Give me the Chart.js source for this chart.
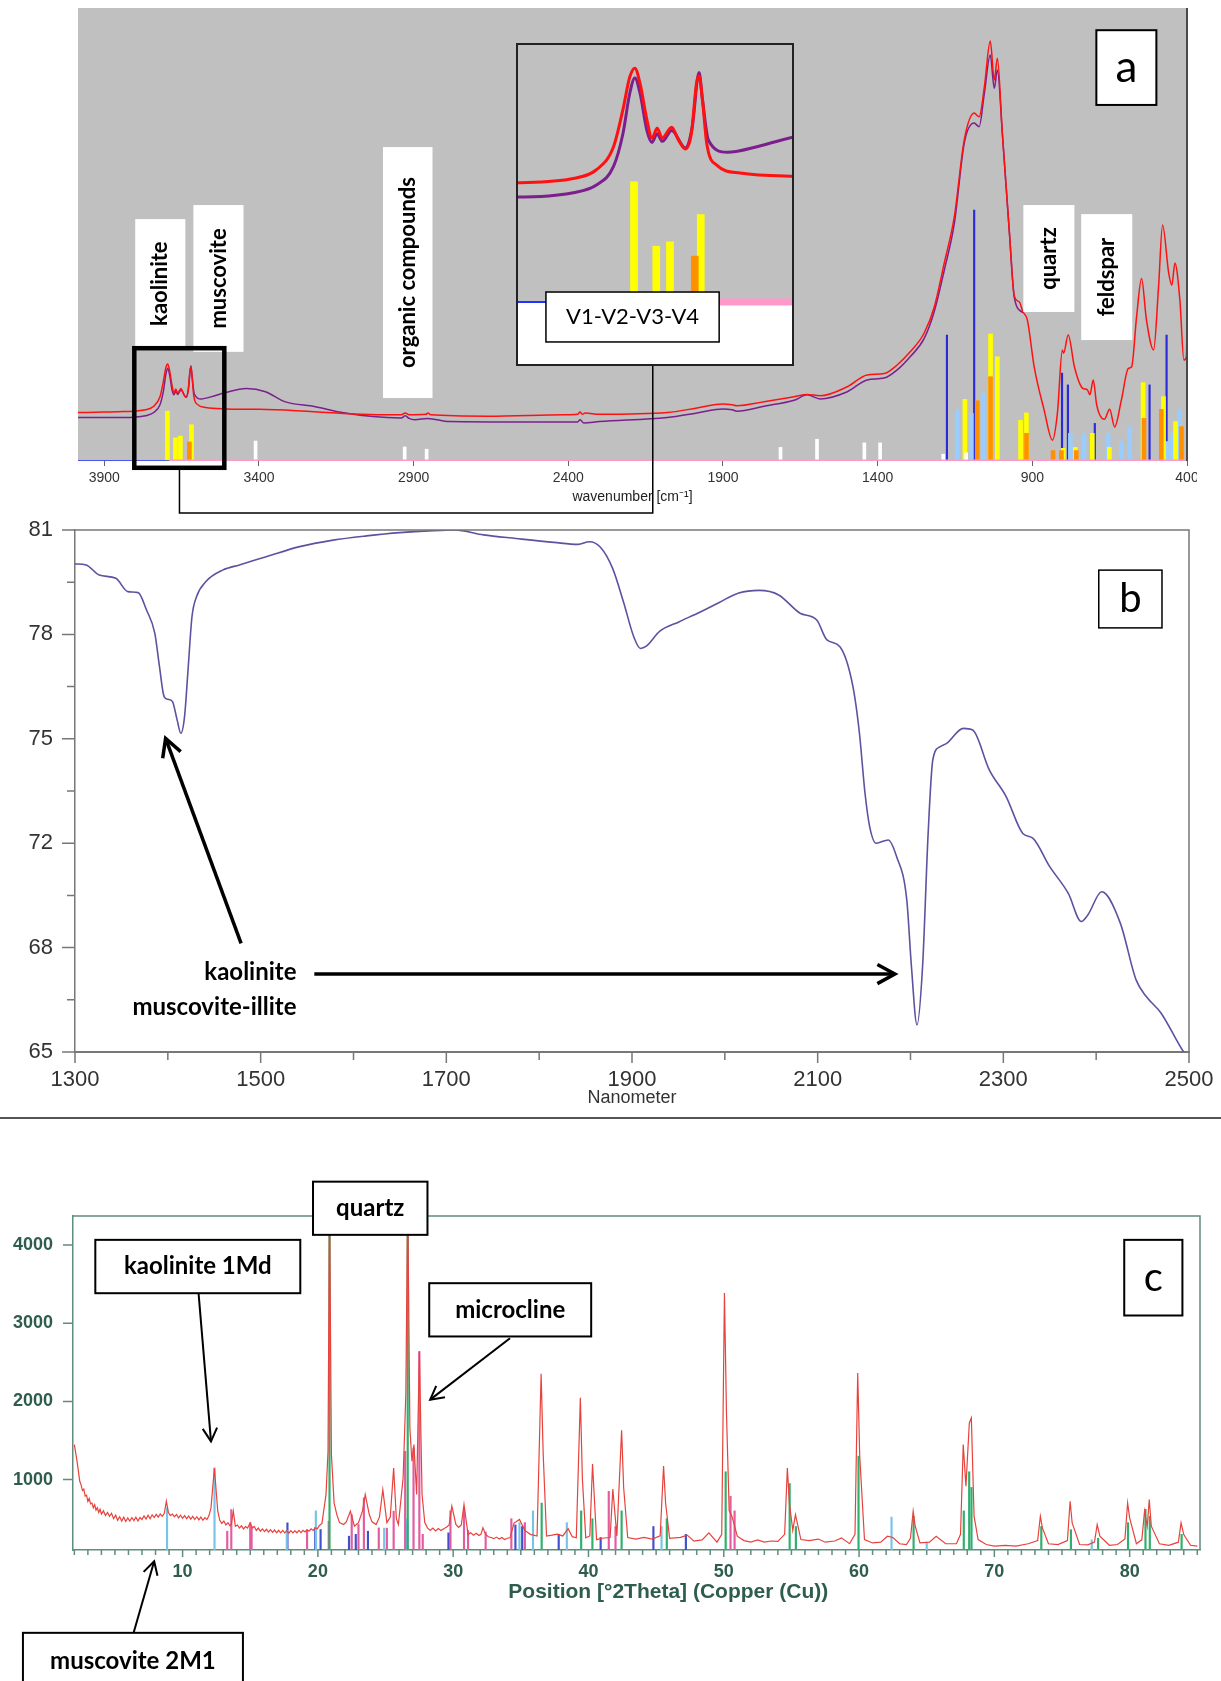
<!DOCTYPE html>
<html>
<head>
<meta charset="utf-8">
<title>FTIR, NIR and XRD spectra</title>
<script src="https://cdn.jsdelivr.net/npm/chart.js@4.4.1/dist/chart.umd.min.js"></script>
<style>
  html, body { margin: 0; padding: 0; background: #fff; }
  #page { position: relative; width: 1221px; height: 1681px; overflow: hidden; background: #fff; }
  #page canvas { position: absolute; }
  #ftir { left: 0; top: 0; }
  #inset { left: 516px; top: 43px; }
  #nir { left: 0; top: 520px; }
  #xrd { left: 0; top: 1120px; }
  #rule { position: absolute; left: 0; top: 1117px; width: 1221px; height: 2px; background: #555; }
</style>
</head>
<body>
<div id="page">
  <canvas id="ftir" width="1197" height="520"></canvas>
  <canvas id="inset" width="278" height="323"></canvas>
  <canvas id="nir" width="1221" height="597"></canvas>
  <div id="rule"></div>
  <canvas id="xrd" width="1221" height="561"></canvas>
</div>
<script>
// ---- panel a: FTIR ----
const ftirRedWn = [3985, 3900, 3838, 3767, 3740, 3720, 3709, 3701, 3695, 3689,
  3681, 3675, 3669, 3663, 3652, 3644, 3636, 3629, 3623, 3620,
  3616, 3611, 3599, 3572, 3509, 3400, 3280, 3094, 2940, 2927,
  2915, 2860, 2853, 2845, 2660, 2412, 2370, 2362, 2355, 2345,
  2300, 2080, 1984, 1900, 1870, 1855, 1767, 1670, 1628, 1586,
  1498, 1434, 1379, 1337, 1295, 1250, 1217, 1185, 1152, 1120,
  1088, 1072, 1055, 1036, 1023, 1013, 997, 974, 958, 942,
  931, 916, 894, 862, 835, 819, 803, 799, 784, 764,
  738, 722, 714, 703, 692, 667, 650, 634, 612, 590,
  579, 563, 547, 531, 508, 492, 479, 459, 449, 439,
  423, 410, 402, 400];
const ftirRedAbs = [10.7, 10.8, 10.9, 11.3, 12.1, 14.2, 17.6, 20.6, 21.4, 20.0,
  16.7, 15.0, 15.9, 15.0, 16.0, 14.8, 14.0, 15.4, 20.0, 20.7,
  18.5, 14.5, 12.5, 11.8, 11.5, 11.4, 11.1, 10.4, 10.2, 10.6,
  10.2, 10.3, 10.6, 10.2, 9.9, 10.2, 10.3, 10.8, 10.3, 10.6,
  10.3, 10.7, 11.7, 12.6, 12.4, 12.2, 13.1, 14.2, 14.7, 14.4,
  16.4, 19.0, 19.3, 21.2, 24.1, 28.2, 34.0, 43.6, 54.0, 70.9,
  76.8, 76.0, 82.6, 92.7, 84.1, 88.9, 72.4, 50.3, 36.3, 35.1,
  33.0, 31.1, 20.8, 11.3, 4.6, 10.5, 24.5, 23.8, 27.8, 20.8,
  16.1, 15.7, 14.6, 17.9, 12.4, 9.2, 11.4, 7.5, 13.5, 20.4,
  20.8, 31.8, 40.3, 31.1, 24.5, 38.4, 52.1, 41.4, 38.8, 43.7,
  35.5, 22.3, 23.0, 29.0];
const ftirPurpleWn = [3985, 3838, 3767, 3740, 3720, 3709, 3701, 3695, 3689, 3681,
  3675, 3669, 3663, 3652, 3636, 3628, 3620, 3616, 3609, 3587,
  3548, 3509, 3441, 3379, 3317, 3218, 3131, 3032, 2940, 2927,
  2915, 2896, 2855, 2784, 2536, 2370, 2362, 2350, 2300, 2080,
  1984, 1900, 1870, 1855, 1767, 1670, 1628, 1586, 1498, 1434,
  1379, 1337, 1295, 1250, 1217, 1185, 1152, 1120, 1088, 1072,
  1055, 1036, 1023, 1013, 997, 974, 958, 931];
const ftirPurpleAbs = [9.6, 9.6, 10.0, 10.7, 12.4, 15.4, 19.1, 20.5, 19.1, 15.7,
  14.6, 15.4, 14.7, 15.7, 14.1, 16.0, 21.0, 18.5, 14.8, 13.7,
  14.3, 15.1, 16.0, 15.3, 13.1, 12.0, 10.7, 9.8, 9.5, 10.0,
  9.4, 9.1, 9.4, 8.7, 8.6, 8.6, 9.1, 8.4, 8.7, 9.6,
  10.6, 11.5, 11.3, 11.0, 12.1, 13.4, 14.6, 13.7, 15.3, 17.9,
  18.3, 20.1, 23.0, 27.0, 33.0, 42.0, 52.5, 70.2, 74.6, 73.8,
  81.2, 89.6, 82.3, 86.3, 72.4, 50.3, 36.0, 32.7];
const ftirBaseBlueWn = [3985, 3690];
const ftirBasePinkWn = [3690, 400];
const yellowWn = [3696, 3670, 3654, 3618, 1118, 1035, 1013, 938, 919, 800, 761, 706, 651, 542, 476, 437];
const yellowH = [11, 5.1, 5.5, 8, 13.6, 28, 23, 9.0, 10.6, 2.8, 3.0, 6.1, 3.0, 17.3, 14.2, 8.7];
const orangeWn = [3625, 1078, 1035, 919, 833, 806, 758, 539, 483, 418];
const orangeH = [4.2, 13.3, 18.6, 6.1, 2.3, 2.3, 2.3, 9.4, 11.4, 7.6];
const lightBlueWn = [1143, 1097, 1059, 777, 733, 655, 612, 586, 463, 450, 424];
const lightBlueH = [11.4, 10.5, 15, 6.1, 6.1, 6.1, 4.3, 7.6, 4.3, 6.1, 11.4];
const blueWn = [1176, 1088, 804, 785, 698, 521, 466];
const blueH = [27.8, 55.4, 19.4, 16.8, 8.3, 16.8, 27.8];
const whiteWn = [3411, 2929, 2858, 1714, 1596, 1443, 1392, 1188, 1114];
const whiteH = [4.4, 3.1, 2.6, 3.0, 4.8, 4.0, 4.0, 1.5, 1.8];
const ftirTicks = [3900, 3400, 2900, 2400, 1900, 1400, 900, 400];

// ---- panel b: NIR ----
const nirNm = [1300, 1312, 1326, 1344, 1357, 1368, 1377, 1386, 1391, 1396,
  1400, 1405, 1410, 1414, 1418, 1422, 1426, 1431, 1441, 1459,
  1477, 1506, 1542, 1578, 1614, 1650, 1686, 1709, 1740, 1775,
  1816, 1842, 1854, 1866, 1879, 1891, 1902, 1909, 1915, 1930,
  1951, 1973, 1994, 2015, 2037, 2058, 2081, 2099, 2110, 2124,
  2138, 2145, 2151, 2156, 2163, 2176, 2185, 2196, 2201, 2207,
  2213, 2219, 2224, 2232, 2239, 2257, 2267, 2285, 2303, 2321,
  2332, 2350, 2370, 2384, 2391, 2406, 2426, 2443, 2454, 2470,
  2492, 2497];
const nirRefl = [79.96, 79.93, 79.62, 79.52, 79.11, 79.08, 78.55, 77.83, 76.81, 75.89,
  75.81, 75.74, 75.18, 74.77, 75.28, 76.81, 78.34, 78.96, 79.42, 79.77,
  79.93, 80.18, 80.49, 80.69, 80.82, 80.92, 80.98, 81.0, 80.85, 80.74,
  80.62, 80.56, 80.64, 80.47, 79.83, 78.78, 77.72, 77.37, 77.43, 77.90,
  78.19, 78.48, 78.78, 79.07, 79.15, 79.01, 78.45, 78.24, 77.63, 77.42,
  76.2, 74.77, 72.93, 71.91, 71.40, 71.50, 70.99, 69.66, 67.62, 65.83,
  67.62, 71.70, 73.95, 74.36, 74.46, 74.92, 74.87, 73.64, 72.83, 71.70,
  71.55, 70.68, 69.86, 69.0, 69.2, 69.91, 68.95, 67.21, 66.70, 66.19,
  65.1, 64.9];
const nirXTicks = [1300, 1400, 1500, 1600, 1700, 1800, 1900, 2000, 2100, 2200, 2300, 2400, 2500];
const nirXLabels = ['1300', '', '1500', '', '1700', '', '1900', '', '2100', '', '2300', '', '2500'];
const nirYTicks = [65, 66.6, 68.2, 69.8, 71.4, 73, 74.6, 76.2, 77.8, 79.4, 81];
const nirYLabels = ['65', '', '68', '', '72', '', '75', '', '78', '', '81'];

// ---- panel c: XRD ----
const xrdTheta = [2.0, 2.2, 2.4, 2.5, 2.6, 2.7, 2.8, 2.9, 3.0, 3.1,
  3.2, 3.3, 3.4, 3.5, 3.6, 3.7, 3.8, 3.9, 4.0, 4.15,
  4.3, 4.45, 4.6, 4.75, 4.9, 5.05, 5.2, 5.35, 5.5, 5.65,
  5.8, 5.95, 6.1, 6.25, 6.4, 6.55, 6.7, 6.85, 7.0, 7.15,
  7.3, 7.45, 7.6, 7.75, 7.9, 8.05, 8.2, 8.35, 8.5, 8.65,
  8.8, 8.95, 9.1, 9.25, 9.4, 9.55, 9.7, 9.85, 10.0, 10.15,
  10.3, 10.45, 10.6, 10.75, 10.9, 11.05, 11.2, 11.35, 11.5, 11.65,
  11.8, 11.95, 12.1, 12.35, 12.6, 12.75, 12.9, 13.05, 13.2, 13.35,
  13.5, 13.6, 13.75, 13.9, 14.05, 14.2, 14.35, 14.5, 14.65, 14.8,
  15.0, 15.15, 15.3, 15.45, 15.6, 15.75, 15.9, 16.05, 16.2, 16.35,
  16.5, 16.65, 16.8, 16.95, 17.1, 17.25, 17.4, 17.55, 17.7, 17.85,
  18.0, 18.15, 18.3, 18.45, 18.6, 18.75, 18.9, 19.05, 19.2, 19.35,
  19.5, 19.65, 19.8, 19.95, 20.1, 20.3, 20.6, 20.75, 20.86, 21.0,
  21.2, 21.4, 21.6, 21.9, 22.1, 22.4, 22.7, 23.0, 23.3, 23.5,
  23.8, 24.0, 24.3, 24.55, 24.8, 25.1, 25.35, 25.6, 25.8, 25.95,
  26.3, 26.5, 26.64, 26.8, 26.95, 27.1, 27.3, 27.5, 27.7, 27.9,
  28.1, 28.3, 28.5, 28.7, 28.9, 29.1, 29.3, 29.5, 29.7, 29.9,
  30.2, 30.4, 30.6, 30.8, 31.1, 31.3, 31.5, 31.7, 31.9, 32.05,
  32.2, 32.4, 32.6, 32.8, 33.0, 33.2, 33.4, 33.6, 33.8, 34.0,
  34.2, 34.5, 34.9, 35.3, 35.7, 36.2, 36.5, 36.65, 36.9, 37.3,
  37.7, 38.1, 38.5, 38.8, 39.1, 39.4, 39.55, 39.8, 40.1, 40.3,
  40.6, 41.0, 41.6, 41.8, 42.1, 42.45, 42.6, 42.9, 43.5, 44.1,
  44.7, 45.3, 45.55, 45.7, 46.0, 46.8, 47.3, 47.8, 48.4, 48.9,
  49.5, 49.85, 50.05, 50.2, 50.4, 50.6, 51.0, 51.5, 52.0, 52.5,
  53.0, 53.5, 54.0, 54.5, 54.7, 54.85, 55.1, 55.3, 55.7, 56.3,
  57.0, 57.5, 58.2, 58.7, 59.3, 59.7, 59.9, 60.05, 60.4, 61.0,
  61.6, 62.1, 62.5, 63.0, 63.5, 63.8, 64.0, 64.15, 64.5, 65.2,
  65.7, 66.4, 67.2, 67.5, 67.7, 67.9, 68.15, 68.3, 68.5, 68.8,
  69.4, 70.0, 70.8, 71.6, 72.5, 73.2, 73.4, 73.55, 74.0, 74.7,
  75.4, 75.6, 75.75, 76.3, 76.9, 77.4, 77.6, 77.8, 78.5, 79.1,
  79.65, 79.85, 80.0, 80.5, 80.9, 81.1, 81.3, 81.45, 81.6, 82.2,
  82.9, 83.6, 83.8, 84.0, 84.5, 85.0];
const xrdCounts = [1447, 1234, 979, 930, 860, 880, 790, 800, 720, 760,
  690, 700, 640, 680, 610, 640, 580, 620, 560, 600,
  540, 580, 530, 570, 500, 545, 480, 525, 470, 520,
  465, 510, 470, 515, 475, 520, 470, 515, 490, 535,
  495, 545, 500, 550, 515, 555, 520, 560, 530, 570,
  723, 580, 540, 560, 525, 555, 510, 545, 505, 540,
  500, 535, 495, 530, 490, 525, 485, 520, 480, 515,
  490, 540, 638, 1149, 596, 480, 440, 470, 420, 450,
  410, 430, 596, 404, 420, 380, 410, 370, 400, 380,
  447, 380, 400, 350, 380, 340, 370, 335, 365, 330,
  360, 325, 355, 320, 352, 320, 350, 318, 345, 315,
  348, 318, 345, 320, 350, 322, 352, 330, 360, 340,
  370, 350, 385, 370, 410, 440, 809, 1362, 4600, 1319,
  700, 553, 450, 426, 460, 596, 404, 450, 600, 809,
  553, 460, 426, 520, 872, 450, 520, 1149, 500, 426,
  1021, 2085, 4600, 1660, 1234, 1447, 809, 2638, 809, 450,
  383, 350, 380, 345, 375, 350, 372, 390, 420, 660,
  426, 390, 420, 681, 298, 320, 290, 315, 285, 300,
  383, 300, 270, 260, 245, 265, 240, 260, 235, 250,
  256, 444, 491, 350, 300, 279, 2352, 1339, 279, 290,
  303, 280, 373, 270, 256, 2046, 1009, 256, 280, 1198,
  232, 250, 260, 880, 280, 1631, 900, 260, 240, 262,
  240, 280, 1175, 700, 250, 262, 290, 214, 230, 319,
  200, 300, 3384, 1851, 600, 532, 276, 220, 200, 230,
  200, 215, 210, 300, 1149, 702, 350, 553, 234, 220,
  240, 200, 215, 255, 180, 300, 2362, 1298, 234, 190,
  200, 276, 260, 180, 170, 250, 596, 404, 190, 200,
  276, 180, 180, 300, 1447, 915, 1724, 1788, 532, 234,
  170, 150, 160, 150, 180, 220, 532, 383, 180, 170,
  220, 723, 447, 170, 165, 200, 425, 276, 160, 170,
  240, 702, 511, 180, 230, 596, 400, 745, 404, 180,
  160, 200, 447, 298, 160, 149];
const quartzTheta = [20.86, 26.64, 36.54, 39.46, 40.29, 42.45, 45.79, 50.14, 54.87, 55.33, 59.96, 64.03, 67.74, 68.14, 68.31, 73.47, 75.66, 77.67, 79.88, 81.17, 81.49, 83.84];
const quartzH = [4600, 4600, 700, 600, 500, 600, 500, 1100, 950, 400, 1300, 530, 600, 1100, 900, 400, 360, 250, 450, 620, 530, 300];
const lightTheta = [8.85, 12.36, 17.7, 19.85, 24.9, 26.6, 34.9, 35.9, 38.4, 45.4, 62.4, 65.0, 77.2];
const lightH = [640, 1150, 350, 600, 380, 500, 450, 600, 450, 400, 520, 200, 230];
const blueTheta = [17.75, 19.8, 20.2, 22.3, 22.8, 23.7, 26.6, 29.65, 34.6, 35.1, 37.8, 40.9, 44.8, 47.2];
const blueThetaH = [447, 383, 362, 277, 300, 340, 447, 319, 420, 400, 300, 260, 400, 300];
const pinkTheta = [13.3, 13.6, 15.0, 15.1, 19.2, 20.8, 22.5, 23.0, 23.4, 24.5, 25.1, 25.6, 26.45, 27.07, 27.5, 27.75, 29.8, 30.8, 31.1, 32.4, 34.3, 35.3, 41.5, 42.0, 50.5, 50.8];
const pinkH = [340, 617, 447, 400, 349, 468, 553, 426, 766, 383, 380, 596, 1362, 1404, 2638, 300, 600, 638, 350, 330, 500, 450, 850, 400, 787, 600];
const xrdXLabels = [10, 20, 30, 40, 50, 60, 70, 80];
const xrdYTicks = [1000, 2000, 3000, 4000];
const xrdYLabels = ['1000', '2000', '3000', '4000'];

// ---- annotations (data units of each panel) ----
const ftirNotes = [
  { text: 'kaolinite', x: [3800, 3638], y: [53.4, 24.9] },
  { text: 'muscovite', x: [3612, 3450], y: [56.5, 24.1] },
  { text: 'organic compounds', x: [2999, 2839], y: [69.3, 13.9] },
  { text: 'quartz', x: [929, 764], y: [56.5, 32.9] },
  { text: 'feldspar', x: [742, 577], y: [54.5, 26.7] }
];
const ftirZoomBox = { x: [3803, 3512], y: [24.9, -1.5] };
const ftirLink = [[3657, -1.5], [3657, -11.5], [2127, -11.5], [2127, 21]];
const xrdNotes = [
  { text: 'kaolinite 1Md', x: [3.55, 18.7], y: [4065, 3383] },
  { text: 'quartz', x: [19.64, 28.1], y: [4809, 4129] },
  { text: 'microcline', x: [28.23, 40.2], y: [3511, 2830] },
  { text: 'muscovite 2M1', x: [-1.8, 14.46], y: [-959, -1704], ty: -1320 }
];
const xrdArrows = [
  { from: [11.18, 3383], to: [12.1, 1489] },
  { from: [34.2, 2808], to: [28.3, 2022] },
  { from: [6.38, -959], to: [7.9, -43] }
];
const nirArrows = [
  { from: [1478.9, 68.33], to: [1397.6, 74.61] },
  { from: [1557.8, 67.39], to: [2183.2, 67.39] }
];
const nirTexts = [
  { text: 'kaolinite', x: 1538.6, y: 67.45 },
  { text: 'muscovite-illite', x: 1538.6, y: 66.38 }
];

Chart.defaults.font.family = '"Liberation Sans", Arial, sans-serif';
Chart.defaults.animation = false;
Chart.defaults.responsive = false;
Chart.defaults.plugins.legend.display = false;
Chart.defaults.plugins.tooltip.enabled = false;

const NOTE_FONT = 'Lato, "Open Sans", sans-serif';
const GREEN = '#2e5d4d';
const FRAME = '#5f8d7e';

const pts = (xs, ys) => xs.map((x, i) => ({ x: x, y: ys[i] }));
const zeros = xs => xs.map(() => 0);
// keep the plot area exactly where the layout padding puts it
const noLabelPad = s => { s.paddingLeft = 0; s.paddingRight = 0; s.paddingTop = 0; s.paddingBottom = 0; };

function lineSet(label, xs, ys, color, width, order, smooth) {
  return { type: 'line', label: label, data: pts(xs, ys), borderColor: color, borderWidth: width,
    pointRadius: 0, fill: false, tension: 0, cubicInterpolationMode: smooth ? 'monotone' : 'default', order: order };
}
function barSet(label, xs, hs, color, thickness, order) {
  return { type: 'bar', label: label, data: pts(xs, hs), backgroundColor: color, borderWidth: 0,
    barThickness: thickness, grouped: false, order: order };
}

function ftirSets(big) {
  const bw = big ? 7 : 4;
  return [
    lineSet('baseline', ftirBaseBlueWn, zeros(ftirBaseBlueWn), '#2233ff', big ? 2 : 1.5, 0),
    lineSet('baseline', ftirBasePinkWn, zeros(ftirBasePinkWn), '#ff99cc', big ? 7 : 3, 0),
    lineSet('sample red', ftirRedWn, ftirRedAbs, '#ff1111', big ? 3 : 1.5, 1, true),
    lineSet('sample purple', ftirPurpleWn, ftirPurpleAbs, '#7a1f8c', big ? 3 : 1.5, 2, true),
    barSet('white', whiteWn, whiteH, '#ffffff', big ? 7 : 3, 3),
    barSet('orange', orangeWn, orangeH, '#ff9000', bw, 4),
    barSet('yellow', yellowWn, yellowH, '#ffff00', bw, 5),
    barSet('light blue', lightBlueWn, lightBlueH, '#99ccff', bw, 6),
    barSet('blue', blueWn, blueH, '#2a2ad8', big ? 3 : 1.5, 7)
  ];
}

function px(chart, x, y) {
  return [chart.scales.x.getPixelForValue(x), chart.scales.y.getPixelForValue(y)];
}

function noteBox(chart, n, border, font, vertical) {
  const ctx = chart.ctx;
  const [x1, y1] = px(chart, n.x[0], n.y[0]);
  const [x2, y2] = px(chart, n.x[1], n.y[1]);
  const l = Math.min(x1, x2), t = Math.min(y1, y2), w = Math.abs(x2 - x1), h = Math.abs(y2 - y1);
  ctx.fillStyle = '#fff';
  ctx.fillRect(l, t, w, h);
  if (border) {
    ctx.lineWidth = border;
    ctx.strokeStyle = '#000';
    ctx.strokeRect(l, t, w, h);
  }
  if (n.text) {
    const cy = n.ty !== undefined ? chart.scales.y.getPixelForValue(n.ty) : t + h / 2;
    ctx.save();
    ctx.translate(l + w / 2, cy);
    if (vertical) ctx.rotate(-Math.PI / 2);
    ctx.font = font;
    ctx.fillStyle = '#000';
    ctx.textAlign = 'center';
    ctx.textBaseline = 'middle';
    ctx.fillText(n.text, 0, 0);
    ctx.restore();
  }
}

function arrow(chart, a, width, head) {
  const ctx = chart.ctx;
  const [x1, y1] = px(chart, a.from[0], a.from[1]);
  const [x2, y2] = px(chart, a.to[0], a.to[1]);
  const ang = Math.atan2(y2 - y1, x2 - x1);
  ctx.strokeStyle = '#000';
  ctx.lineWidth = width;
  ctx.lineJoin = 'miter';
  ctx.beginPath();
  ctx.moveTo(x1, y1);
  ctx.lineTo(x2, y2);
  ctx.stroke();
  ctx.beginPath();
  ctx.moveTo(x2 - head * Math.cos(ang - 0.5), y2 - head * Math.sin(ang - 0.5));
  ctx.lineTo(x2, y2);
  ctx.lineTo(x2 - head * Math.cos(ang + 0.5), y2 - head * Math.sin(ang + 0.5));
  ctx.stroke();
}

const ftirDecor = {
  id: 'ftirDecor',
  beforeDraw(chart) {
    const { ctx, chartArea: a } = chart;
    ctx.save();
    ctx.fillStyle = '#c0c0c0';
    ctx.fillRect(a.left, a.top, a.right - a.left, a.bottom - a.top);
    ctx.restore();
  },
  afterDraw(chart) {
    const { ctx, chartArea: a } = chart;
    ctx.save();
    ctx.strokeStyle = '#4a4a4a';
    ctx.lineWidth = 2;
    ctx.beginPath();
    ctx.moveTo(a.right, a.top);
    ctx.lineTo(a.right, a.bottom);
    ctx.stroke();
    ftirNotes.forEach(n => noteBox(chart, n, 0, 'bold 22px ' + NOTE_FONT, true));
    noteBox(chart, { text: 'a', x: [693, 499], y: [95.1, 78.6] }, 2, '44px ' + NOTE_FONT, false);
    const [bx1, by1] = px(chart, ftirZoomBox.x[0], ftirZoomBox.y[0]);
    const [bx2, by2] = px(chart, ftirZoomBox.x[1], ftirZoomBox.y[1]);
    ctx.strokeStyle = '#000';
    ctx.lineWidth = 4.5;
    ctx.strokeRect(bx1, by1, bx2 - bx1, by2 - by1);
    ctx.lineWidth = 1.5;
    ctx.beginPath();
    ftirLink.forEach((p, i) => {
      const [x, y] = px(chart, p[0], p[1]);
      if (i === 0) ctx.moveTo(x, y); else ctx.lineTo(x, y);
    });
    ctx.stroke();
    ctx.restore();
  }
};

const insetDecor = {
  id: 'insetDecor',
  beforeDraw(chart) {
    const { ctx, width, height } = chart;
    const y0 = chart.scales.y.getPixelForValue(0);
    ctx.save();
    ctx.fillStyle = '#fff';
    ctx.fillRect(0, 0, width, height);
    ctx.fillStyle = '#c0c0c0';
    ctx.fillRect(0, 0, width, y0);
    ctx.restore();
  },
  afterDraw(chart) {
    const { ctx, width, height } = chart;
    ctx.save();
    noteBox(chart, { text: 'V1-V2-V3-V4', x: [3799, 3596.5], y: [0.91, -3.66] }, 1.5, '22px ' + NOTE_FONT, false);
    ctx.strokeStyle = '#222';
    ctx.lineWidth = 2;
    ctx.strokeRect(1, 1, width - 2, height - 2);
    ctx.restore();
  }
};

const nirDecor = {
  id: 'nirDecor',
  afterDraw(chart) {
    const { ctx, chartArea: a } = chart;
    const sx = chart.scales.x, sy = chart.scales.y;
    ctx.save();
    ctx.strokeStyle = '#777';
    ctx.lineWidth = 1.5;
    ctx.beginPath();
    ctx.moveTo(a.left, a.top);
    ctx.lineTo(a.right, a.top);
    ctx.lineTo(a.right, a.bottom);
    ctx.stroke();
    ctx.beginPath();
    sx.ticks.forEach((t, i) => {
      const p = sx.getPixelForValue(t.value);
      ctx.moveTo(p, a.bottom);
      ctx.lineTo(p, a.bottom + (nirXLabels[i] ? 11 : 8));
    });
    sy.ticks.forEach((t, i) => {
      const p = sy.getPixelForValue(t.value);
      ctx.moveTo(a.left, p);
      ctx.lineTo(a.left - (nirYLabels[i] ? 13 : 8), p);
    });
    ctx.stroke();
    noteBox(chart, { text: 'b', x: [2402.8, 2470.9], y: [79.77, 78.0] }, 1.5, '40px ' + NOTE_FONT, false);
    nirArrows.forEach(ar => arrow(chart, ar, 3.5, 20));
    ctx.font = 'bold 24px ' + NOTE_FONT;
    ctx.fillStyle = '#000';
    ctx.textAlign = 'right';
    ctx.textBaseline = 'middle';
    nirTexts.forEach(t => {
      const [x, y] = px(chart, t.x, t.y);
      ctx.fillText(t.text, x, y);
    });
    ctx.restore();
  }
};

const xrdDecor = {
  id: 'xrdDecor',
  afterDraw(chart) {
    const { ctx, chartArea: a } = chart;
    const sx = chart.scales.x, sy = chart.scales.y;
    ctx.save();
    ctx.strokeStyle = FRAME;
    ctx.lineWidth = 1.5;
    ctx.beginPath();
    ctx.moveTo(a.left, a.top);
    ctx.lineTo(a.right, a.top);
    ctx.lineTo(a.right, a.bottom);
    ctx.stroke();
    ctx.beginPath();
    sx.ticks.forEach(t => {
      const p = sx.getPixelForValue(t.value);
      ctx.moveTo(p, a.bottom);
      ctx.lineTo(p, a.bottom + (xrdXLabels.includes(t.value) ? 7 : 5));
    });
    sy.ticks.forEach(t => {
      const p = sy.getPixelForValue(t.value);
      ctx.moveTo(a.left, p);
      ctx.lineTo(a.left - 10, p);
    });
    ctx.stroke();
    ctx.fillStyle = GREEN;
    ctx.font = 'bold 21px "Liberation Sans", Arial, sans-serif';
    ctx.textAlign = 'center';
    ctx.textBaseline = 'middle';
    ctx.fillText('Position [°2Theta] (Copper (Cu))', sx.getPixelForValue(45.9), a.bottom + 42);
    xrdNotes.forEach(n => noteBox(chart, n, 2, 'bold 24px ' + NOTE_FONT, false));
    xrdArrows.forEach(ar => arrow(chart, ar, 2, 15));
    noteBox(chart, { text: 'c', x: [79.6, 83.9], y: [4065, 3098] }, 2, '40px ' + NOTE_FONT, false);
    ctx.restore();
  }
};

new Chart(document.getElementById('ftir'), {
  type: 'line',
  data: { datasets: ftirSets(false) },
  options: {
    layout: { padding: { left: 78, right: 10, top: 8, bottom: 0 }, autoPadding: false },
    scales: {
      x: {
        type: 'linear', reverse: true, min: 400, max: 3985, offset: false,
        afterBuildTicks: s => { s.ticks = ftirTicks.map(v => ({ value: v })); },
        afterFit: s => { s.height = 59; noLabelPad(s); },
        ticks: { callback: v => String(v), color: '#333', font: { size: 14 }, padding: 4, autoSkip: false, maxRotation: 0 },
        grid: { drawOnChartArea: false, offset: false, tickLength: 5, color: '#666' },
        border: { display: false },
        title: { display: true, text: 'wavenumber [cm⁻¹]', color: '#222', font: { size: 14 }, padding: { top: 0, bottom: 14 } }
      },
      y: { display: false, min: 0, max: 100 }
    }
  },
  plugins: [ftirDecor]
});

new Chart(document.getElementById('inset'), {
  type: 'line',
  data: { datasets: ftirSets(true) },
  options: {
    layout: { padding: 0, autoPadding: false },
    scales: {
      x: { type: 'linear', reverse: true, min: 3509, max: 3834, offset: false, display: false },
      y: { min: -5.86, max: 23.7, display: false }
    }
  },
  plugins: [insetDecor]
});

new Chart(document.getElementById('nir'), {
  type: 'line',
  data: { datasets: [lineSet('reflectance', nirNm, nirRefl, '#5d52a0', 1.6, 0, true)] },
  options: {
    layout: { padding: { left: 0, right: 32, top: 10, bottom: 0 }, autoPadding: false },
    scales: {
      x: {
        type: 'linear', min: 1300, max: 2500,
        afterBuildTicks: s => { s.ticks = nirXTicks.map(v => ({ value: v })); },
        afterFit: s => { s.height = 65; noLabelPad(s); },
        ticks: { callback: (v, i) => nirXLabels[i], color: '#333', font: { size: 22 }, padding: 15, autoSkip: false, maxRotation: 0 },
        grid: { drawOnChartArea: false, drawTicks: false },
        border: { color: '#777', width: 2 },
        title: { display: true, text: 'Nanometer', color: '#333', font: { size: 18 }, padding: { top: 0, bottom: 8 } }
      },
      y: {
        min: 65, max: 81,
        afterBuildTicks: s => { s.ticks = nirYTicks.map(v => ({ value: v })); },
        afterFit: s => { s.width = 75; noLabelPad(s); },
        ticks: { callback: (v, i) => nirYLabels[i], color: '#333', font: { size: 22 }, padding: 22, autoSkip: false },
        grid: { drawOnChartArea: false, drawTicks: false },
        border: { color: '#777', width: 1.5 }
      }
    }
  },
  plugins: [nirDecor]
});

const xrdMinorTicks = [];
for (let d = 2; d <= 85; d++) xrdMinorTicks.push(d);

new Chart(document.getElementById('xrd'), {
  type: 'line',
  data: {
    datasets: [
      lineSet('counts', xrdTheta, xrdCounts, '#e8423c', 1.2, 0),
      barSet('quartz', quartzTheta, quartzH, '#2fae6c', 1.5, 1),
      barSet('kaolinite', lightTheta, lightH, '#78c4e6', 1.5, 2),
      barSet('muscovite', blueTheta, blueThetaH, '#4050cc', 1.5, 3),
      barSet('microcline', pinkTheta, pinkH, '#e25c9f', 1.5, 4)
    ]
  },
  options: {
    layout: { padding: { left: 0, right: 21, top: 96, bottom: 0 }, autoPadding: false },
    scales: {
      x: {
        type: 'linear', min: 1.9, max: 85.2, offset: false,
        afterBuildTicks: s => { s.ticks = xrdMinorTicks.map(v => ({ value: v })); },
        afterFit: s => { s.height = 131; noLabelPad(s); },
        ticks: { callback: v => xrdXLabels.includes(v) ? String(v) : '', color: GREEN, font: { size: 18, weight: 'bold' }, padding: 11, autoSkip: false, maxRotation: 0 },
        grid: { drawOnChartArea: false, drawTicks: false, offset: false },
        border: { color: FRAME, width: 1.5 }
      },
      y: {
        min: 100, max: 4370,
        afterBuildTicks: s => { s.ticks = xrdYTicks.map(v => ({ value: v })); },
        afterFit: s => { s.width = 73; noLabelPad(s); },
        ticks: { callback: (v, i) => xrdYLabels[i], color: GREEN, font: { size: 18, weight: 'bold' }, padding: 20 },
        grid: { drawOnChartArea: false, drawTicks: false },
        border: { color: FRAME, width: 1.5 }
      }
    }
  },
  plugins: [xrdDecor]
});
</script>
</body>
</html>
